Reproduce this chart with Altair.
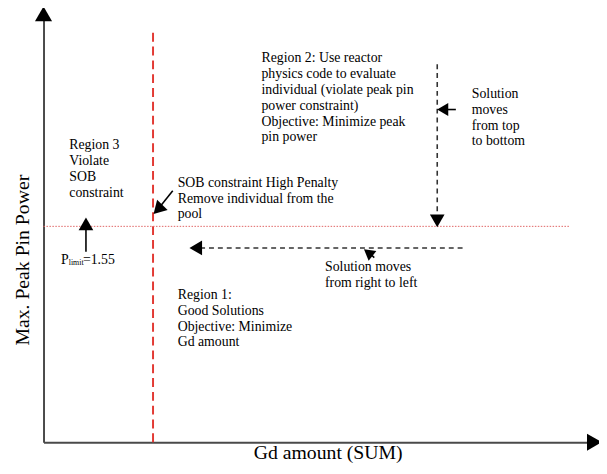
import altair as alt
import pandas as pd

# ---- conceptual axes (no numeric ticks in the original) ----
x_title = "Gd amount (SUM)"
y_title = "Max. Peak Pin Power"
x_domain = [0, 100]
y_domain = [0, 100]

# ---- constraint boundaries ----
sob_x = [20.0, 20.0]          # SOB constraint (red dashed vertical)
sob_y = [0.0, 97.9]
plim_x = [0.0, 96.0]          # P_limit = 1.55 (red dotted horizontal)
plim_y = [51.0, 51.0]

# ---- dashed "solution moves" paths ----
dash_x = [71.9, 28.6]
dash_y = [89.3, 45.9]
dash_x2 = [71.9, 77.1]
dash_y2 = [53.5, 45.9]

# ---- short solid arrow shafts ----
shaft_x = [75.3, 23.6, 7.75, 60.4]
shaft_y = [78.6, 59.4, 45.0, 43.6]
shaft_x2 = [73.0, 21.3, 7.75, 59.6]
shaft_y2 = [78.6, 55.7, 50.5, 44.6]

# ---- arrow heads ----
head_x = [0.0, 100.6, 71.9, 72.9, 27.8, 20.9, 7.75, 59.3]
head_y = [101.2, 0.0, 52.3, 78.6, 45.9, 55.0, 51.6, 44.8]
head_angle = [0, 90, 180, 270, 270, 224, 0, 308]
head_size = [300, 300, 220, 170, 220, 220, 220, 160]

# ---- annotation texts ----
note_x = [4.7, 24.5, 39.8, 78.2, 24.5, 51.4]
note_y = [71.8, 62.9, 92.3, 83.9, 36.4, 42.9]
note_text = [
    "Region 3\nViolate\nSOB\nconstraint",
    "SOB constraint High Penalty\nRemove individual from the\npool",
    "Region 2: Use reactor\nphysics code to evaluate\nindividual (violate  peak pin\npower constraint)\nObjective: Minimize  peak\npin power",
    "Solution\nmoves\nfrom top\nto bottom",
    "Region 1:\nGood Solutions\nObjective: Minimize\nGd amount",
    "Solution moves\nfrom right to left",
]

# P_limit label pieces (main text + subscript)
plab_x = [3.2, 7.2]
plab_y = [43.1, 43.1]
plab_text = ["P", "=1.55"]
psub_x = [4.6]
psub_y = [42.4]
psub_text = ["limit"]

FONT = "Liberation Serif"

xs = alt.Scale(domain=x_domain, nice=False, zero=False)
ys = alt.Scale(domain=y_domain, nice=False, zero=False)

x_axis = alt.Axis(ticks=False, labels=False, grid=False, domainColor="#4a4a4a", domainWidth=2,
                  title=x_title, titleFont=FONT, titleFontSize=20, titleFontWeight="normal",
                  titleColor="black", titleX=288, titleY=17, titleBaseline="alphabetic",
                  titleAlign="center")
y_axis = alt.Axis(ticks=False, labels=False, grid=False, domainColor="#4a4a4a", domainWidth=2,
                  title=y_title, titleFont=FONT, titleFontSize=20, titleFontWeight="normal",
                  titleColor="black", titleX=-15, titleY=244, titleBaseline="alphabetic",
                  titleAlign="center", titleAngle=270)

sob_df = pd.DataFrame({"x": [sob_x[0]], "y": [sob_y[0]], "x2": [sob_x[1]], "y2": [sob_y[1]]})
plim_df = pd.DataFrame({"x": [plim_x[0]], "y": [plim_y[0]], "x2": [plim_x[1]], "y2": [plim_y[1]]})
dash_df = pd.DataFrame({"x": dash_x, "y": dash_y, "x2": dash_x2, "y2": dash_y2})
shaft_df = pd.DataFrame({"x": shaft_x, "y": shaft_y, "x2": shaft_x2, "y2": shaft_y2})
head_df = pd.DataFrame({"x": head_x, "y": head_y, "angle": head_angle, "size": head_size})
note_df = pd.DataFrame({"x": note_x, "y": note_y, "text": note_text})
plab_df = pd.DataFrame({"x": plab_x, "y": plab_y, "text": plab_text})
psub_df = pd.DataFrame({"x": psub_x, "y": psub_y, "text": psub_text})

sob_rule = alt.Chart(sob_df).mark_rule(color="#e23a34", strokeWidth=2, strokeDash=[9, 5]).encode(
    x=alt.X("x:Q", scale=xs, axis=x_axis),
    y=alt.Y("y:Q", scale=ys, axis=y_axis),
    x2="x2:Q", y2="y2:Q",
)

plim_rule = alt.Chart(plim_df).mark_rule(color="#e06464", strokeWidth=1, strokeDash=[1.5, 1.5]).encode(
    x=alt.X("x:Q", scale=xs), y=alt.Y("y:Q", scale=ys), x2="x2:Q", y2="y2:Q"
)

dash_rule = alt.Chart(dash_df).mark_rule(color="#333333", strokeWidth=1.6, strokeDash=[5, 4]).encode(
    x=alt.X("x:Q", scale=xs), y=alt.Y("y:Q", scale=ys), x2="x2:Q", y2="y2:Q"
)

shaft_rule = alt.Chart(shaft_df).mark_rule(color="black", strokeWidth=1.6).encode(
    x=alt.X("x:Q", scale=xs), y=alt.Y("y:Q", scale=ys), x2="x2:Q", y2="y2:Q"
)

heads = alt.Chart(head_df).mark_point(shape="triangle-up", filled=True, color="black", opacity=1).encode(
    x=alt.X("x:Q", scale=xs), y=alt.Y("y:Q", scale=ys),
    angle=alt.Angle("angle:Q", scale=None),
    size=alt.Size("size:Q", scale=None, legend=None),
)

notes = alt.Chart(note_df).mark_text(font=FONT, fontSize=14, lineHeight=16, align="left",
                                     baseline="top", lineBreak="\n", color="black").encode(
    x=alt.X("x:Q", scale=xs), y=alt.Y("y:Q", scale=ys), text="text:N"
)

plab = alt.Chart(plab_df).mark_text(font=FONT, fontSize=14, align="left", baseline="middle",
                                    color="black").encode(
    x=alt.X("x:Q", scale=xs), y=alt.Y("y:Q", scale=ys), text="text:N"
)

psub = alt.Chart(psub_df).mark_text(font=FONT, fontSize=8, align="left", baseline="middle",
                                    color="black").encode(
    x=alt.X("x:Q", scale=xs), y=alt.Y("y:Q", scale=ys), text="text:N"
)

chart = alt.layer(sob_rule, plim_rule, dash_rule, shaft_rule, heads, notes, plab, psub).properties(
    width=555, height=429,
    autosize=alt.AutoSizeParams(type="none"),
    padding={"left": 36, "top": 8, "right": 8, "bottom": 21},
).configure_view(stroke=None)

chart.save("out.html", embed_options={"renderer": "svg", "actions": False})
